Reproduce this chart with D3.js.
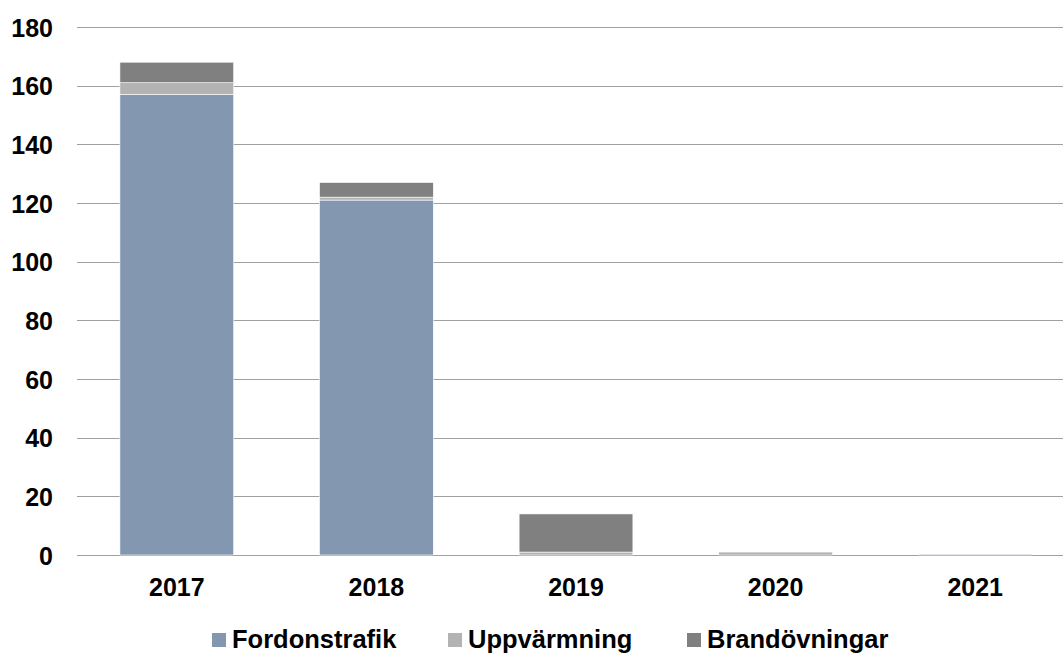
<!DOCTYPE html>
<html>
<head>
<meta charset="utf-8">
<script src="https://cdn.jsdelivr.net/npm/d3@7"></script>
<style>
  html, body { margin: 0; padding: 0; background: #fff; }
  svg { display: block; font-family: "Liberation Sans", Arial, sans-serif; }
</style>
</head>
<body>
<svg id="chart" width="1063" height="655"></svg>
<script>
// Years on the x axis
const years = ["2017", "2018", "2019", "2020", "2021"];
// Stacked series, bottom to top
const fordonstrafik = [157, 121, 0, 0, 0.3];
const uppvarmning   = [4, 1, 1, 1, 0];
const brandovningar = [7, 5, 13, 0, 0];
const seriesNames = ["Fordonstrafik", "Uppvärmning", "Brandövningar"];
const yTicks = [0, 20, 40, 60, 80, 100, 120, 140, 160, 180];

const colors = ["#8497b0", "#b3b3b3", "#808080"];

const svg = d3.select("#chart");
const margin = { left: 77, right: -12, top: 27, bottom: 100 };
const W = 1063, H = 655;
const fontSize = 25;

const rows = years.map((y, i) => ({
  year: y,
  Fordonstrafik: fordonstrafik[i],
  "Uppvärmning": uppvarmning[i],
  "Brandövningar": brandovningar[i]
}));

const x = d3.scaleBand()
  .domain(years)
  .range([margin.left, W - margin.right])
  .paddingInner(0.43)
  .paddingOuter(0.215);

const y = d3.scaleLinear()
  .domain([0, 180])
  .range([H - margin.bottom, margin.top]);

// Horizontal gridlines
svg.append("g")
  .selectAll("line")
  .data(yTicks)
  .join("line")
  .attr("x1", margin.left)
  .attr("x2", W)
  .attr("y1", d => Math.round(y(d)) + 0.5)
  .attr("y2", d => Math.round(y(d)) + 0.5)
  .attr("stroke", "#a0a0a0")
  .attr("stroke-width", 1);

// Y axis labels
const yAxis = d3.axisLeft(y).tickValues(yTicks).tickSize(0).tickPadding(0);
const yg = svg.append("g")
  .attr("transform", `translate(${margin.left - 24},0)`)
  .call(yAxis);
yg.select(".domain").remove();
yg.selectAll("text")
  .attr("font-size", fontSize)
  .attr("font-weight", "bold")
  .attr("fill", "#000")
  .attr("font-family", "Liberation Sans, Arial, sans-serif")
  .attr("dy", "0.36em");

// Stacked bars
const stack = d3.stack().keys(seriesNames);
const stacked = stack(rows);

svg.append("g")
  .selectAll("g")
  .data(stacked)
  .join("g")
  .attr("fill", (d, i) => colors[i])
  .selectAll("rect")
  .data(d => d)
  .join("rect")
  .attr("x", d => x(d.data.year))
  .attr("width", x.bandwidth())
  .attr("y", d => y(d[1]))
  .attr("height", d => Math.max(0, y(d[0]) - y(d[1])))
  .attr("stroke", d => (d[1] - d[0]) > 0 ? "#ffffff" : "none")
  .attr("stroke-width", 0.6);

// X axis labels
const xAxis = d3.axisBottom(x).tickSize(0).tickPadding(0);
const xg = svg.append("g")
  .attr("transform", `translate(0,${H - margin.bottom + 32})`)
  .call(xAxis);
xg.select(".domain").remove();
xg.selectAll("text")
  .attr("font-size", fontSize)
  .attr("font-weight", "bold")
  .attr("fill", "#000")
  .attr("font-family", "Liberation Sans, Arial, sans-serif")
  .attr("dy", "0.36em");

// Legend
const legendX = [212, 448, 687];
const legend = svg.append("g")
  .selectAll("g")
  .data(seriesNames)
  .join("g")
  .attr("transform", (d, i) => `translate(${legendX[i]},648)`);
legend.append("rect")
  .attr("x", 0)
  .attr("y", -15)
  .attr("width", 14)
  .attr("height", 14)
  .attr("fill", (d, i) => colors[i]);
legend.append("text")
  .attr("x", 20)
  .attr("y", 0)
  .attr("font-size", 25.5)
  .attr("font-weight", "bold")
  .attr("fill", "#000")
  .text(d => d);
</script>
</body>
</html>
